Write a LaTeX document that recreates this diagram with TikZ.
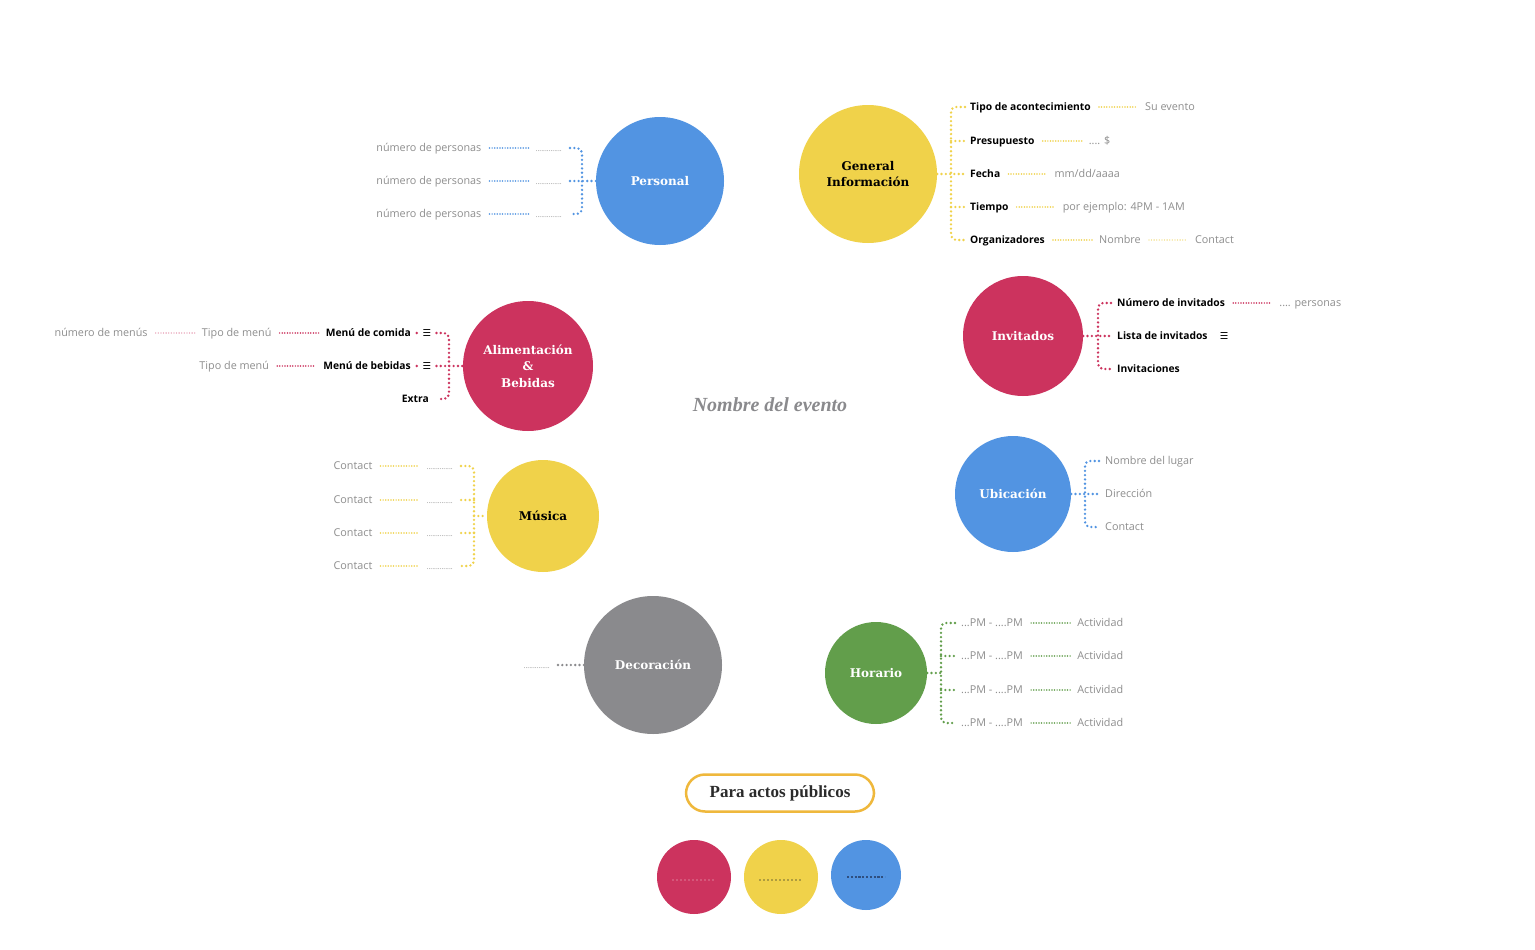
\documentclass[tikz,border=0pt]{standalone}
\usepackage{fontspec}
\setmainfont{Open Sans}
\newfontfamily\slab{DejaVu Serif}
\newfontfamily\deco{Liberation Serif}
\newfontfamily\symf{DejaVu Sans}
\usetikzlibrary{positioning,calc}
\definecolor{cblue}{HTML}{5294E2}
\definecolor{cyel}{HTML}{F0D24A}
\definecolor{cred}{HTML}{CC335E}
\definecolor{cgray}{HTML}{8A8A8D}
\definecolor{cgreen}{HTML}{629E4B}
\definecolor{tgray}{HTML}{8E8E8E}
\definecolor{corange}{HTML}{EFB83C}
\definecolor{lpink}{HTML}{E07A98}
\definecolor{lyel}{HTML}{F0D45A}
\definecolor{olive}{HTML}{6E6632}
\definecolor{dblue}{HTML}{2F4F80}
\definecolor{dtext}{HTML}{2B2B2B}
\tikzset{
  bub/.style={circle, inner sep=0pt, minimum size=#1, align=center,
    font=\slab\bfseries\fontsize{12}{16.5}\selectfont},
  big/.style={line width=2.6pt, line cap=round, dash pattern=on 0pt off 4.3pt},
  fine/.style={line width=1.7pt, line cap=round, dash pattern=on 0pt off 2.6pt,
    shorten <=8pt, shorten >=7pt},
  lbl/.style={inner sep=0pt, text height=9pt, text depth=2pt},
  key/.style={lbl, text=black, font=\fontsize{10.3}{12}\selectfont\bfseries},
  val/.style={lbl, text=tgray, font=\fontsize{10.8}{12}\selectfont},
  dts/.style={lbl, text=tgray, font=\fontsize{7}{8}\selectfont},
  ico/.style={lbl, text=black, font=\symf\fontsize{9.5}{10}\selectfont},
}
\begin{document}
\begin{tikzpicture}[x=1pt,y=-1pt]
\fill[white] (0,0) rectangle (1535,950);
\useasboundingbox (0,0) rectangle (1535,950);

% ---------- Personal ----------
\node[bub=128, fill=cblue, text=white] (P) at (660,181) {Personal};
\foreach \i/\y in {1/148,2/181,3/214}{
  \node[dts, anchor=east] (Pb\i) at (562,\y) {..............};
  \node[val, left=54pt of Pb\i] (Pa\i) {número de personas};
  \draw[fine, cblue] (Pa\i) -- (Pb\i);
}
\coordinate (Pc) at (582,181);
\draw[big, cblue, rounded corners=5pt, shorten <=8pt, shorten >=8pt] (Pb1.east) -| (Pc) |- (Pb3.east);
\draw[big, cblue, shorten <=8pt] (Pb2.east) -- (P.west);

% ---------- General Informacion ----------
\node[bub=138, fill=cyel, text=black] (G) at (868,174) {General\\Información};
\node[key, anchor=west] (G1) at (970,107) {Tipo de acontecimiento};
\node[key, anchor=west] (G2) at (970,141) {Presupuesto};
\node[key, anchor=west] (G3) at (970,174) {Fecha};
\node[key, anchor=west] (G4) at (970,207) {Tiempo};
\node[key, anchor=west] (G5) at (970,240) {Organizadores};
\node[val, right=54pt of G1] (G1v) {Su evento};
\node[val, right=54pt of G2] (G2v) {.... \$};
\node[val, right=54pt of G3] (G3v) {mm/dd/aaaa};
\node[val, right=54pt of G4] (G4v) {por ejemplo: 4PM - 1AM};
\node[val, right=54pt of G5] (G5v) {Nombre};
\node[val, right=54pt of G5v] (G5w) {Contact};
\foreach \i in {1,...,5}{\draw[fine, cyel] (G\i) -- (G\i v);}
\draw[fine, lyel, line width=1.3pt] (G5v) -- (G5w);
\coordinate (Gc) at (951,174);
\draw[big, cyel, rounded corners=5pt, shorten <=5pt, shorten >=5pt] (G1.west) -| (Gc) |- (G5.west);
\draw[big, cyel, shorten >=5pt] (Gc |- G2.west) -- (G2.west);
\draw[big, cyel, shorten >=5pt] (Gc |- G4.west) -- (G4.west);
\draw[big, cyel, shorten >=5pt] (G.east) -- (G3.west);

% ---------- Alimentacion & Bebidas ----------
\node[bub=130, fill=cred, text=white] (A) at (528,366) {Alimentación\\\&\\Bebidas};
\node[ico] (A1i) at (427,333) {☰};
\node[ico] (A2i) at (427,366) {☰};
\node[key, anchor=east] (A1) at (411,333) {Menú de comida};
\node[key, anchor=east] (A2) at (411,366) {Menú de bebidas};
\node[key, anchor=east] (A3) at (429,399) {Extra};
\node[val, left=54pt of A1] (A1v) {Tipo de menú};
\node[val, left=54pt of A1v] (A1w) {número de menús};
\node[val, left=54pt of A2] (A2v) {Tipo de menú};
\draw[fine, cred] (A1v) -- (A1);
\draw[fine, cred] (A2v) -- (A2);
\draw[fine, lpink, line width=1.3pt] (A1w) -- (A1v);
\fill[cred] ($(A1.east)!.5!(A1i.west)$) circle (1.3pt);
\fill[cred] ($(A2.east)!.5!(A2i.west)$) circle (1.3pt);
\coordinate (Ac) at (449,366);
\draw[big, cred, rounded corners=5pt, shorten <=5pt, shorten >=8pt] (A1i.east) -| (Ac) |- (A3.east);
\draw[big, cred, shorten <=5pt] (A2i.east) -- (A.west);

% ---------- Invitados ----------
\node[bub=120, fill=cred, text=white] (I) at (1023,336) {Invitados};
\node[key, anchor=west] (I1) at (1117,303) {Número de invitados};
\node[key, anchor=west] (I2) at (1117,336) {Lista de invitados};
\node[key, anchor=west] (I3) at (1117,369) {Invitaciones};
\node[val, right=54pt of I1] (I1v) {.... personas};
\node[ico, right=12pt of I2] (I2i) {☰};
\draw[fine, cred] (I1) -- (I1v);
\coordinate (Ic) at (1098,336);
\draw[big, cred, rounded corners=5pt, shorten <=6pt, shorten >=6pt] (I1.west) -| (Ic) |- (I3.west);
\draw[big, cred, shorten >=6pt] (I.east) -- (I2.west);

% ---------- Musica ----------
\node[bub=112, fill=cyel, text=black] (M) at (543,516) {Música};
\foreach \i/\y in {1/466,2/500,3/533,4/566}{
  \node[dts, anchor=east] (Mb\i) at (453,\y) {..............};
  \node[val, left=54pt of Mb\i] (Ma\i) {Contact};
  \draw[fine, cyel] (Ma\i) -- (Mb\i);
}
\coordinate (Mc) at (474,516);
\draw[big, cyel, rounded corners=5pt, shorten <=8pt, shorten >=8pt] (Mb1.east) -| (Mc) |- (Mb4.east);
\draw[big, cyel, shorten >=8pt] (Mc |- Mb2.east) -- (Mb2.east);
\draw[big, cyel, shorten >=8pt] (Mc |- Mb3.east) -- (Mb3.east);
\draw[big, cyel] (Mc) -- (M.west);

% ---------- Ubicacion ----------
\node[bub=116, fill=cblue, text=white] (U) at (1013,494) {Ubicación};
\node[val, anchor=west] (U1) at (1105,461) {Nombre del lugar};
\node[val, anchor=west] (U2) at (1105,494) {Dirección};
\node[val, anchor=west] (U3) at (1105,527) {Contact};
\coordinate (Uc) at (1085,494);
\draw[big, cblue, rounded corners=5pt, shorten <=6pt, shorten >=6pt] (U1.west) -| (Uc) |- (U3.west);
\draw[big, cblue, shorten >=6pt] (U.east) -- (U2.west);

% ---------- Decoracion ----------
\node[bub=138, fill=cgray, text=white] (D) at (653,665) {Decoración};
\node[dts, anchor=east] (Dd) at (550,665) {..............};
\draw[big, cgray, shorten <=8pt] (Dd.east) -- (D.west);

% ---------- Horario ----------
\node[bub=102, fill=cgreen, text=white] (H) at (876,673) {Horario};
\foreach \i/\y in {1/623,2/656,3/690,4/723}{
  \node[val, anchor=west] (H\i) at (961,\y) {...PM - ....PM};
  \node[val, right=54pt of H\i] (H\i v) {Actividad};
  \draw[fine, cgreen] (H\i) -- (H\i v);
}
\coordinate (Hc) at (941,673);
\draw[big, cgreen, rounded corners=5pt, shorten <=6pt, shorten >=6pt] (H1.west) -| (Hc) |- (H4.west);
\draw[big, cgreen, shorten >=6pt] (Hc |- H2.west) -- (H2.west);
\draw[big, cgreen, shorten >=6pt] (Hc |- H3.west) -- (H3.west);
\draw[big, cgreen] (H.east) -- (Hc);

% ---------- Title ----------
\node[text=cgray, font=\deco\bfseries\itshape\fontsize{20}{22}\selectfont] (T) at (770,405) {Nombre del evento};

% ---------- Para actos publicos ----------
\node[draw=corange, line width=2.5pt, rounded corners=19pt, minimum width=188pt, minimum height=37pt,
  text=dtext, font=\deco\bfseries\fontsize{17}{20}\selectfont] (PA) at (780,793) {Para actos públicos};
\node[circle, fill=cred, minimum size=74pt, inner sep=0pt] (B1) at (694,877) {};
\node[circle, fill=cyel, minimum size=74pt, inner sep=0pt] (B2) at (781,877) {};
\node[circle, fill=cblue, minimum size=70pt, inner sep=0pt] (B3) at (866,875) {};
\draw[line width=1.6pt, line cap=round, dash pattern=on 0pt off 4pt, lpink]
  ($(B1.center)+(-21pt,-3pt)$) -- ($(B1.center)+(21pt,-3pt)$);
\draw[line width=1.6pt, line cap=round, dash pattern=on 0pt off 4pt, olive]
  ($(B2.center)+(-21pt,-3pt)$) -- ($(B2.center)+(21pt,-3pt)$);
\draw[line width=1.2pt, dash pattern=on 2.2pt off 1.6pt, dblue]
  ($(B3.center)+(-19pt,-2pt)$) -- ($(B3.center)+(19pt,-2pt)$);
\end{tikzpicture}
\end{document}
